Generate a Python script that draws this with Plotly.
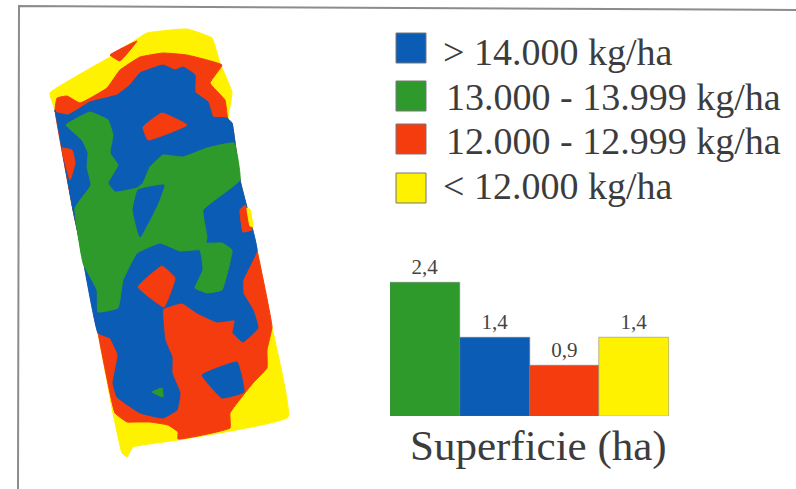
import plotly.graph_objects as go

# Bar chart data
bar_categories = ["13.000 - 13.999 kg/ha", "> 14.000 kg/ha", "12.000 - 12.999 kg/ha", "< 12.000 kg/ha"]
bar_values = [2.4, 1.4, 0.9, 1.4]
bar_labels = ["2,4", "1,4", "0,9", "1,4"]
BLUE, GREEN, RED, YELLOW = "#0b5cb5", "#2f9a2c", "#f53c0f", "#fff200"
bar_colors = [GREEN, BLUE, RED, YELLOW]

# Legend
legend_labels = ["> 14.000 kg/ha", "13.000 - 13.999 kg/ha", "12.000 - 12.999 kg/ha", "< 12.000 kg/ha"]
legend_colors = [BLUE, GREEN, RED, YELLOW]
legend_y = [48, 96, 139, 188]
legend_text_x = [441, 444, 444, 441]
legend_text_y = [52, 97, 141, 186]

# Yield-map zones, painted in order
field = [(50,93),(110,57),(147,33),(187,29),(212,38),(220,63),(232,92),(228,120),(240,180),(257,250),
         (272,327),(288,417),(178,440),(133,447),(127,457),(122,453),(113,413),(98,333),(80,243),(73,210),(55,110)]
red_main = [(57,98),(67,96),(80,103),(107,88),(120,70),(140,57),(163,53),(187,55),(222,65),(210,83),(225,100),
            (228,120),(232,123),(240,180),(257,250),(272,327),(267,350),(267,368),(253,383),(230,413),(230,428),
            (178,439),(178,432),(168,425),(150,422),(137,422),(127,422),(115,413),(98,333),(80,243),(73,210),(55,110)]
red_corner = [(110,55),(137,41),(120,61)]
blue_main = [(55,112),(68,115),(90,102),(117,95),(130,85),(140,73),(163,65),(175,70),(183,67),(195,75),(195,92),
             (208,102),(213,117),(227,118),(232,123),(240,180),(257,250),(243,280),(243,293),(253,310),(258,328),
             (243,342),(233,333),(235,320),(217,322),(197,313),(182,303),(163,309),(165,340),(172,357),(172,373),
             (180,393),(177,410),(163,418),(140,413),(117,397),(113,383),(118,355),(110,338),(98,333),(80,243),
             (73,210),(55,110)]
green_main = [(66,125),(90,112),(108,120),(113,135),(110,153),(118,165),(108,183),(115,192),(137,188),(143,183),
              (150,167),(163,155),(183,157),(207,148),(234,143),(240,180),(203,210),(207,237),(206,243),(222,243),
              (232,250),(222,290),(207,293),(195,288),(203,270),(200,250),(180,251),(160,243),(137,253),(123,280),
              (118,308),(98,312),(97,290),(83,263),(75,208),(91,185),(87,167),(88,153),(82,140)]
blue_center = [(138,190),(164,185),(158,203),(140,237),(133,210)]
blue_low = [(202,375),(237,362),(244,392),(222,398)]
red_top = [(143,127),(162,113),(187,125),(148,140)]
red_left = [(62,148),(72,150),(75,163),(70,180)]
red_oval = [(138,287),(162,266),(175,278),(164,307)]
red_right = [(240,210),(245,205),(252,227),(252,230),(243,232)]
yellow_right = [(247,208),(250,209),(253,227),(250,226)]
green_dot = [(152,392),(162,388),(163,397)]
zones = [(field, YELLOW), (red_main, RED), (red_corner, RED), (blue_main, BLUE), (green_main, GREEN),
         (blue_center, BLUE), (blue_low, BLUE), (red_top, RED), (red_left, RED), (red_oval, RED),
         (red_right, RED), (yellow_right, YELLOW), (green_dot, GREEN)]
frame_x = [796, 19, 18]
frame_y = [10, 6, 489]

fig = go.Figure()
# Frame
fig.add_trace(go.Scatter(x=frame_x, y=frame_y, mode="lines", line=dict(color="#8c8c8c", width=2),
                         xaxis="x2", yaxis="y2", hoverinfo="skip"))
# Map
for pts, col in zones:
    fig.add_trace(go.Scatter(x=[p[0] for p in pts] + [pts[0][0]], y=[p[1] for p in pts] + [pts[0][1]],
                             mode="lines", fill="toself", fillcolor=col,
                             line=dict(color=col, width=1, shape="spline", smoothing=0.3),
                             xaxis="x2", yaxis="y2", hoverinfo="skip"))
# Legend swatches
for yy, col in zip(legend_y, legend_colors):
    fig.add_trace(go.Scatter(x=[411], y=[yy], mode="markers", marker=dict(symbol="square", size=30, color=col,
                             line=dict(color="#777", width=1)), xaxis="x2", yaxis="y2", hoverinfo="skip"))
# Legend text
for lab, xx, yy in zip(legend_labels, legend_text_x, legend_text_y):
    fig.add_annotation(x=xx, y=yy, xref="x2", yref="y2", text=lab, showarrow=False, xanchor="left", yanchor="middle",
                       font=dict(family="Liberation Serif", size=38, color="#3c3c3c"))
# Bars
fig.add_trace(go.Bar(x=bar_categories, y=bar_values, marker=dict(color=bar_colors, line=dict(color="#777", width=0.5)),
                     text=bar_labels, textposition="outside", cliponaxis=False,
                     textfont=dict(family="Liberation Serif", size=21, color="#444")))
fig.add_annotation(x=538, y=446, xref="x2", yref="y2", text="Superficie (ha)", showarrow=False, xanchor="center", yanchor="middle",
                   font=dict(family="Liberation Serif", size=43, color="#3c3c3c"))

W, H = 796, 489
fig.update_layout(
    width=W, height=H, margin=dict(l=0, r=0, t=0, b=0), paper_bgcolor="white", plot_bgcolor="rgba(0,0,0,0)",
    showlegend=False, bargap=0,
    xaxis=dict(domain=[390 / W, 669 / W], showgrid=False, zeroline=False, showticklabels=False, ticks="", categoryorder="array", categoryarray=bar_categories),
    yaxis=dict(domain=[1 - 416 / H, 1 - 248.5 / H], range=[0, 3], showgrid=False, zeroline=False, showticklabels=False, ticks=""),
    xaxis2=dict(domain=[0, 1], range=[0, W], visible=False, anchor="y2"),
    yaxis2=dict(domain=[0, 1], range=[H, 0], visible=False, anchor="x2"),
)
fig.write_html("out.html", post_script="document.body.style.margin='0';", config={"displayModeBar": False})
